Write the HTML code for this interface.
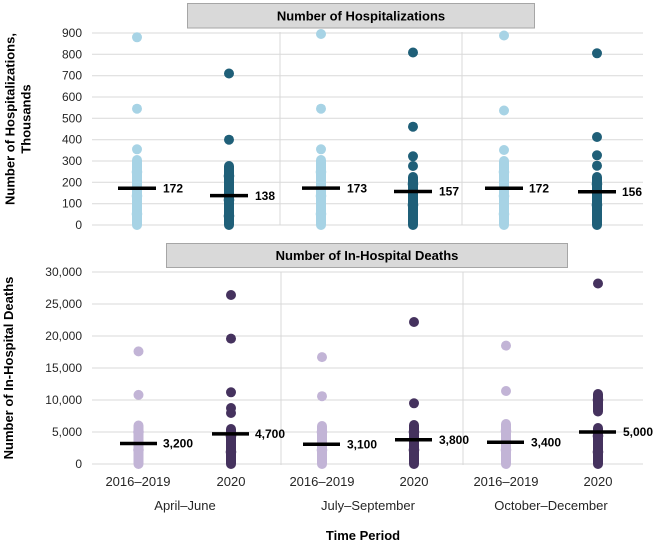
<!DOCTYPE html>
<html><head><meta charset="utf-8"><style>
html,body{margin:0;padding:0;background:#fff;}
svg{display:block;font-family:"Liberation Sans",Arial,sans-serif;}
.tk{font-size:12px;fill:#262626;}
.xl{font-size:13px;fill:#262626;}
.b{font-weight:bold;fill:#000;}
.g{stroke:#d9d9d9;stroke-width:1;}
</style></head><body>
<svg width="657" height="542" viewBox="0 0 657 542" xmlns="http://www.w3.org/2000/svg">
<!-- TOP PANEL -->
<rect x="187.5" y="3.5" width="347" height="24.5" fill="#d9d9d9" stroke="#a6a6a6" stroke-width="1"/>
<text x="361" y="20.5" text-anchor="middle" class="b" font-size="13">Number of Hospitalizations</text>
<g class="g">
<line x1="92" x2="643" y1="33" y2="33"/>
<line x1="92" x2="643" y1="54.3" y2="54.3"/>
<line x1="92" x2="643" y1="75.7" y2="75.7"/>
<line x1="92" x2="643" y1="97" y2="97"/>
<line x1="92" x2="643" y1="118.3" y2="118.3"/>
<line x1="92" x2="643" y1="139.7" y2="139.7"/>
<line x1="92" x2="643" y1="161" y2="161"/>
<line x1="92" x2="643" y1="182.3" y2="182.3"/>
<line x1="92" x2="643" y1="203.7" y2="203.7"/>
<line x1="92" x2="643" y1="225" y2="225"/>
<line x1="280" x2="280" y1="32" y2="225"/>
<line x1="462" x2="462" y1="32" y2="225"/>
</g>
<g class="tk" text-anchor="end">
<text x="82" y="37">900</text>
<text x="82" y="58.3">800</text>
<text x="82" y="79.7">700</text>
<text x="82" y="101">600</text>
<text x="82" y="122.3">500</text>
<text x="82" y="143.7">400</text>
<text x="82" y="165">300</text>
<text x="82" y="186.3">200</text>
<text x="82" y="207.7">100</text>
<text x="82" y="229">0</text>
</g>
<text transform="translate(14.5,119) rotate(-90)" text-anchor="middle" class="b" font-size="13">Number of Hospitalizations,</text>
<text transform="translate(30.5,119) rotate(-90)" text-anchor="middle" class="b" font-size="13">Thousands</text>

<!-- col1 light -->
<g fill="#a7d3e5">
<circle cx="137" cy="37.3" r="5"/><circle cx="137" cy="108.7" r="5"/><circle cx="137" cy="149.3" r="5"/>
<rect x="132" y="155" width="10" height="75" rx="5"/>
<circle cx="137" cy="172" r="5.3"/><circle cx="137" cy="196" r="5.3"/><circle cx="137" cy="214" r="5.3"/>
</g>
<!-- col2 dark -->
<g fill="#1f5f78">
<circle cx="229" cy="73.5" r="5"/><circle cx="229" cy="139.7" r="5"/>
<rect x="224" y="161" width="10" height="69" rx="5"/>
<circle cx="229" cy="176" r="5.3"/><circle cx="229" cy="200" r="5.3"/><circle cx="229" cy="216" r="5.3"/>
</g>
<!-- col3 light -->
<g fill="#a7d3e5">
<circle cx="321" cy="34" r="5"/><circle cx="321" cy="108.7" r="5"/><circle cx="321" cy="149.3" r="5"/>
<rect x="316" y="155" width="10" height="75" rx="5"/>
<circle cx="321" cy="172" r="5.3"/><circle cx="321" cy="196" r="5.3"/><circle cx="321" cy="214" r="5.3"/>
</g>
<!-- col4 dark -->
<g fill="#1f5f78">
<circle cx="413" cy="52.5" r="5"/><circle cx="413" cy="126.7" r="5"/><circle cx="413" cy="156.3" r="5"/><circle cx="413" cy="166" r="5"/>
<rect x="408" y="172" width="10" height="58" rx="5"/>
<circle cx="413" cy="184" r="5.3"/><circle cx="413" cy="205" r="5.3"/>
</g>
<!-- col5 light -->
<g fill="#a7d3e5">
<circle cx="504" cy="35.5" r="5"/><circle cx="504" cy="110.5" r="5"/><circle cx="504" cy="150" r="5"/>
<rect x="499" y="156" width="10" height="74" rx="5"/>
<circle cx="504" cy="172" r="5.3"/><circle cx="504" cy="196" r="5.3"/><circle cx="504" cy="214" r="5.3"/>
</g>
<!-- col6 dark -->
<g fill="#1f5f78">
<circle cx="597" cy="53.3" r="5"/><circle cx="597" cy="137" r="5"/><circle cx="597" cy="155.3" r="5"/><circle cx="597" cy="165.7" r="5"/>
<rect x="592" y="172" width="10" height="58" rx="5"/>
<circle cx="597" cy="184" r="5.3"/><circle cx="597" cy="205" r="5.3"/>
</g>
<!-- medians top -->
<g stroke="#000" stroke-width="3.5">
<line x1="118" x2="156" y1="188.3" y2="188.3"/>
<line x1="210" x2="248" y1="195.6" y2="195.6"/>
<line x1="302" x2="340" y1="188.1" y2="188.1"/>
<line x1="394" x2="432" y1="191.5" y2="191.5"/>
<line x1="485" x2="523" y1="188.3" y2="188.3"/>
<line x1="578" x2="616" y1="191.7" y2="191.7"/>
</g>
<g class="b" font-size="12">
<text x="163" y="192.5">172</text>
<text x="255" y="199.8">138</text>
<text x="347" y="192.3">173</text>
<text x="439" y="195.7">157</text>
<text x="529" y="192.5">172</text>
<text x="622" y="195.9">156</text>
</g>

<!-- BOTTOM PANEL -->
<rect x="166.5" y="243.5" width="401" height="24" fill="#d9d9d9" stroke="#a6a6a6" stroke-width="1"/>
<text x="367" y="260" text-anchor="middle" class="b" font-size="13">Number of In-Hospital Deaths</text>
<g class="g">
<line x1="92" x2="643" y1="272" y2="272"/>
<line x1="92" x2="643" y1="304" y2="304"/>
<line x1="92" x2="643" y1="336" y2="336"/>
<line x1="92" x2="643" y1="368" y2="368"/>
<line x1="92" x2="643" y1="400" y2="400"/>
<line x1="92" x2="643" y1="432" y2="432"/>
<line x1="92" x2="643" y1="464" y2="464"/>
<line x1="281" x2="281" y1="272" y2="465"/>
<line x1="463" x2="463" y1="272" y2="465"/>
</g>
<g class="tk" text-anchor="end">
<text x="82" y="276">30,000</text>
<text x="82" y="308">25,000</text>
<text x="82" y="340">20,000</text>
<text x="82" y="372">15,000</text>
<text x="82" y="404">10,000</text>
<text x="82" y="436">5,000</text>
<text x="82" y="468">0</text>
</g>
<text transform="translate(13,368) rotate(-90)" text-anchor="middle" class="b" font-size="13">Number of In-Hospital Deaths</text>

<!-- col1 light purple -->
<g fill="#c2b4d6">
<circle cx="138.5" cy="351.4" r="5"/><circle cx="138.5" cy="394.9" r="5"/>
<rect x="133.5" y="420.5" width="10" height="48.5" rx="5"/>
<circle cx="138.5" cy="432" r="5.3"/><circle cx="138.5" cy="450" r="5.3"/>
</g>
<!-- col2 dark purple -->
<g fill="#45325e">
<circle cx="231" cy="295" r="5"/><circle cx="231" cy="338.6" r="5"/><circle cx="231" cy="392.3" r="5"/>
<circle cx="231" cy="408" r="5"/><circle cx="231" cy="413" r="5"/>
<rect x="226" y="424" width="10" height="45" rx="5"/>
<circle cx="231" cy="436" r="5.3"/><circle cx="231" cy="452" r="5.3"/>
</g>
<!-- col3 light purple -->
<g fill="#c2b4d6">
<circle cx="322" cy="357.1" r="5"/><circle cx="322" cy="396.2" r="5"/>
<rect x="317" y="421" width="10" height="48" rx="5"/>
<circle cx="322" cy="432" r="5.3"/><circle cx="322" cy="450" r="5.3"/>
</g>
<!-- col4 dark purple -->
<g fill="#45325e">
<circle cx="414" cy="322" r="5"/><circle cx="414" cy="403.3" r="5"/>
<rect x="409" y="420" width="10" height="49" rx="5"/>
<circle cx="414" cy="432" r="5.3"/><circle cx="414" cy="450" r="5.3"/>
</g>
<!-- col5 light purple -->
<g fill="#c2b4d6">
<circle cx="506" cy="345.6" r="5"/><circle cx="506" cy="391" r="5"/>
<rect x="501" y="419" width="10" height="50" rx="5"/>
<circle cx="506" cy="431" r="5.3"/><circle cx="506" cy="450" r="5.3"/>
</g>
<!-- col6 dark purple -->
<g fill="#45325e">
<circle cx="598" cy="283.5" r="5"/>
<rect x="593" y="389" width="10" height="27.5" rx="5"/>
<circle cx="598" cy="400" r="5.3"/>
<rect x="593" y="423" width="10" height="46" rx="5"/>
<circle cx="598" cy="436" r="5.3"/><circle cx="598" cy="452" r="5.3"/>
</g>
<!-- medians bottom -->
<g stroke="#000" stroke-width="3.5">
<line x1="120" x2="157" y1="443.5" y2="443.5"/>
<line x1="212" x2="249" y1="433.9" y2="433.9"/>
<line x1="303" x2="340" y1="444.2" y2="444.2"/>
<line x1="395" x2="432" y1="439.7" y2="439.7"/>
<line x1="487" x2="524" y1="442.2" y2="442.2"/>
<line x1="579" x2="616" y1="432" y2="432"/>
</g>
<g class="b" font-size="12">
<text x="163" y="447.7">3,200</text>
<text x="255" y="438.1">4,700</text>
<text x="347" y="448.4">3,100</text>
<text x="439" y="443.9">3,800</text>
<text x="531" y="446.4">3,400</text>
<text x="623" y="436.2">5,000</text>
</g>

<!-- X labels -->
<g class="xl" text-anchor="middle">
<text x="138" y="486">2016–2019</text>
<text x="231" y="486">2020</text>
<text x="322" y="486">2016–2019</text>
<text x="414" y="486">2020</text>
<text x="506" y="486">2016–2019</text>
<text x="598" y="486">2020</text>
<text x="185" y="510">April–June</text>
<text x="368" y="510">July–September</text>
<text x="551" y="510">October–December</text>
</g>
<text x="363" y="540" text-anchor="middle" class="b" font-size="13">Time Period</text>
</svg>
</body></html>
